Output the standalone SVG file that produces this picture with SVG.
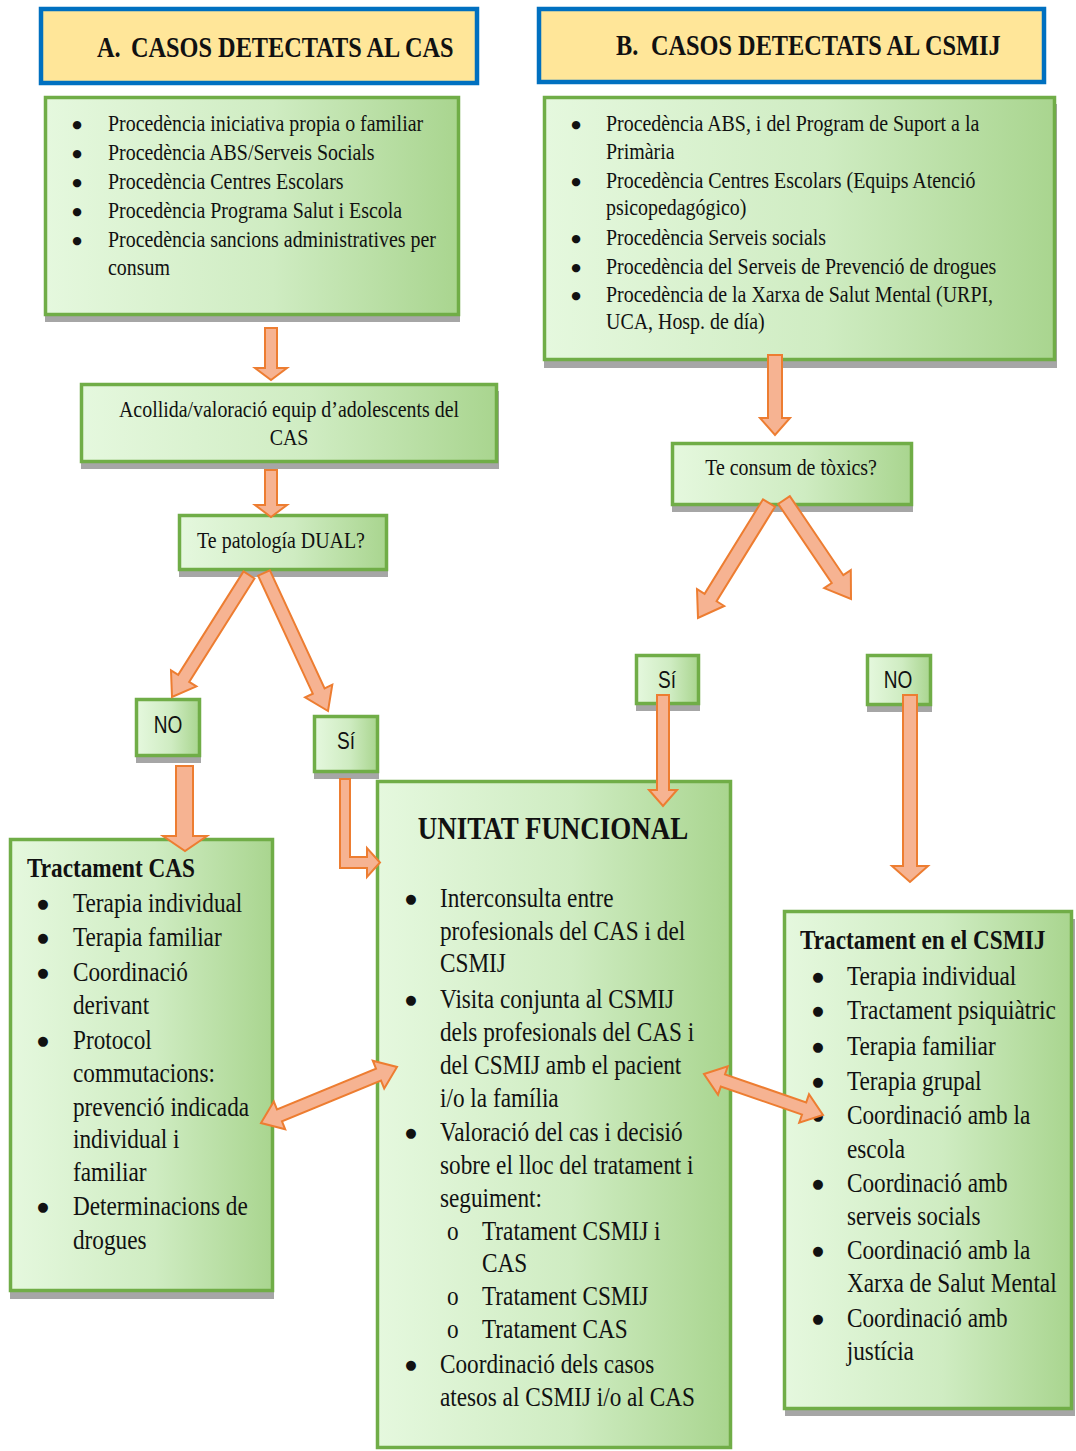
<svg xmlns="http://www.w3.org/2000/svg" width="1076" height="1451" viewBox="0 0 1076 1451">
  <defs>
    <linearGradient id="gfill" x1="0" y1="0" x2="1" y2="0">
      <stop offset="0" stop-color="#e5f8de"/>
      <stop offset="0.55" stop-color="#cfecc2"/>
      <stop offset="1" stop-color="#a9d58f"/>
    </linearGradient>
  </defs>
  <style>
    .box { fill: url(#gfill); stroke: #70ad47; stroke-width: 3.5; }
    .shadow { fill: #a6a6a6; }
    .hdr { fill: #ffe699; stroke: #0070c0; stroke-width: 4.5; }
    .arrow { fill: #f6b392; stroke: #ed7d31; stroke-width: 2; stroke-linejoin: miter; }
    text { fill: #111; font-family: "Liberation Serif", "Times New Roman", serif;
           transform-box: fill-box; transform-origin: 0 50%; transform: scaleX(0.83); }
    .m { text-anchor: middle; transform-origin: 50% 50%; }
    .s24 { font-size: 24px; }
    .s28 { font-size: 28px; }
    .b28 { font-size: 28px; font-weight: bold; }
    .b32 { font-size: 32.5px; font-weight: bold; }
    .h { font-size: 29.3px; font-weight: bold; }
    .a { font-family: "Liberation Sans", Arial, sans-serif; font-size: 23px; }
    .bl { font-family: "DejaVu Sans", sans-serif; text-anchor: middle; transform: none; }
    .s24 .bl { font-size: 11px; }
    .s28 .bl { font-size: 13px; }
  </style>

  <rect width="1076" height="1451" fill="#ffffff"/>

  <!-- Header A -->
  <g id="hdrA">
    <rect class="hdr" x="41" y="9" width="436" height="74"/>
    <text class="h" x="97" y="57">A.</text>
    <text class="h" x="131" y="57">CASOS DETECTATS AL CAS</text>
  </g>

  <!-- Header B -->
  <g id="hdrB">
    <rect class="hdr" x="539" y="9" width="505" height="73"/>
    <text class="h" x="616" y="55">B.</text>
    <text class="h" x="651" y="55">CASOS DETECTATS AL CSMIJ</text>
  </g>

  <!-- Sources A -->
  <g id="srcA">
    <rect class="shadow" x="45" y="104" width="415" height="218"/>
    <rect class="box" x="45.5" y="97.5" width="413" height="217"/>
    <g class="s24">
      <text class="bl" x="77" y="128">●</text><text x="108" y="131">Procedència iniciativa propia o familiar</text>
      <text class="bl" x="77" y="157">●</text><text x="108" y="160">Procedència ABS/Serveis Socials</text>
      <text class="bl" x="77" y="186">●</text><text x="108" y="189">Procedència Centres Escolars</text>
      <text class="bl" x="77" y="215">●</text><text x="108" y="218">Procedència Programa Salut i Escola</text>
      <text class="bl" x="77" y="244">●</text><text x="108" y="247">Procedència sancions administratives per</text>
      <text x="108" y="275">consum</text>
    </g>
  </g>

  <!-- Sources B -->
  <g id="srcB">
    <rect class="shadow" x="544" y="104" width="513" height="264"/>
    <rect class="box" x="544.5" y="97.5" width="510" height="262"/>
    <g class="s24">
      <text class="bl" x="576" y="128">●</text><text x="606" y="131">Procedència ABS, i del Program de Suport a la</text>
      <text x="606" y="159">Primària</text>
      <text class="bl" x="576" y="185">●</text><text x="606" y="188">Procedència Centres Escolars (Equips Atenció</text>
      <text x="606" y="215">psicopedagógico)</text>
      <text class="bl" x="576" y="242">●</text><text x="606" y="245">Procedència Serveis socials</text>
      <text class="bl" x="576" y="271">●</text><text x="606" y="274">Procedència del Serveis de Prevenció de drogues</text>
      <text class="bl" x="576" y="299">●</text><text x="606" y="302">Procedència de la Xarxa de Salut Mental (URPI,</text>
      <text x="606" y="329">UCA, Hosp. de día)</text>
    </g>
  </g>

  <!-- Acollida -->
  <g id="acollida">
    <rect class="shadow" x="81" y="391" width="418" height="78"/>
    <rect class="box" x="81.5" y="384.5" width="415" height="77"/>
    <text class="s24 m" x="289" y="417">Acollida/valoració equip d’adolescents del</text>
    <text class="s24 m" x="289" y="445">CAS</text>
  </g>

  <!-- Te patologia DUAL -->
  <g id="dual">
    <rect class="shadow" x="179" y="522" width="209" height="55"/>
    <rect class="box" x="179.5" y="515.5" width="207" height="54"/>
    <text class="s24 m" x="281" y="548">Te patología DUAL?</text>
  </g>

  <!-- Te consum de toxics -->
  <g id="consum">
    <rect class="shadow" x="672" y="450" width="241" height="62"/>
    <rect class="box" x="672.5" y="443.5" width="239" height="61"/>
    <text class="s24 m" x="791" y="475">Te consum de tòxics?</text>
  </g>

  <!-- NO (A) -->
  <g id="noA">
    <rect class="shadow" x="136" y="706" width="65" height="57"/>
    <rect class="box" x="136.5" y="699.5" width="63" height="56"/>
    <text class="a m" x="168" y="733">NO</text>
  </g>

  <!-- Si (A) -->
  <g id="siA">
    <rect class="shadow" x="314" y="723" width="65" height="56"/>
    <rect class="box" x="314.5" y="716.5" width="63" height="55"/>
    <text class="a m" x="346" y="749">Sí</text>
  </g>

  <!-- Si (B) -->
  <g id="siB">
    <rect class="shadow" x="636" y="662" width="64" height="49"/>
    <rect class="box" x="636.5" y="655.5" width="62" height="48"/>
    <text class="a m" x="667" y="688">Sí</text>
  </g>

  <!-- NO (B) -->
  <g id="noB">
    <rect class="shadow" x="867" y="662" width="65" height="50"/>
    <rect class="box" x="867.5" y="655.5" width="63" height="49"/>
    <text class="a m" x="898" y="688">NO</text>
  </g>

  <!-- Tractament CAS -->
  <g id="tractCAS">
    <rect class="shadow" x="10" y="847" width="264" height="452"/>
    <rect class="box" x="10.5" y="839.5" width="262" height="451"/>
    <text class="b28" x="27" y="877">Tractament CAS</text>
    <g class="s28">
      <text class="bl" x="43" y="908">●</text><text x="73" y="912">Terapia individual</text>
      <text class="bl" x="43" y="942">●</text><text x="73" y="946">Terapia familiar</text>
      <text class="bl" x="43" y="977">●</text><text x="73" y="981">Coordinació</text>
      <text x="73" y="1014">derivant</text>
      <text class="bl" x="43" y="1045">●</text><text x="73" y="1049">Protocol</text>
      <text x="73" y="1082">commutacions:</text>
      <text x="73" y="1116">prevenció indicada</text>
      <text x="73" y="1148">individual i</text>
      <text x="73" y="1181">familiar</text>
      <text class="bl" x="43" y="1211">●</text><text x="73" y="1215">Determinacions de</text>
      <text x="73" y="1249">drogues</text>
    </g>
  </g>

  <!-- Unitat funcional -->
  <g id="unitat">
    <rect class="box" x="377.5" y="781.5" width="353" height="666"/>
    <text class="b32 m" x="553" y="839">UNITAT FUNCIONAL</text>
    <g class="s28">
      <text class="bl" x="411" y="903">●</text><text x="440" y="907">Interconsulta entre</text>
      <text x="440" y="940">profesionals del CAS i del</text>
      <text x="440" y="972">CSMIJ</text>
      <text class="bl" x="411" y="1004">●</text><text x="440" y="1008">Visita conjunta al CSMIJ</text>
      <text x="440" y="1041">dels profesionals del CAS i</text>
      <text x="440" y="1074">del CSMIJ amb el pacient</text>
      <text x="440" y="1107">i/o la família</text>
      <text class="bl" x="411" y="1137">●</text><text x="440" y="1141">Valoració del cas i decisió</text>
      <text x="440" y="1174">sobre el lloc del tratament i</text>
      <text x="440" y="1207">seguiment:</text>
      <text x="447" y="1240">o</text><text x="482" y="1240">Tratament CSMIJ i</text>
      <text x="482" y="1272">CAS</text>
      <text x="447" y="1305">o</text><text x="482" y="1305">Tratament CSMIJ</text>
      <text x="447" y="1338">o</text><text x="482" y="1338">Tratament CAS</text>
      <text class="bl" x="411" y="1369">●</text><text x="440" y="1373">Coordinació dels casos</text>
      <text x="440" y="1406">atesos al CSMIJ i/o al CAS</text>
    </g>
  </g>

  <!-- Tractament en el CSMIJ -->
  <g id="tractCSMIJ">
    <rect class="shadow" x="785" y="919" width="290" height="497"/>
    <rect class="box" x="784.5" y="911.5" width="287" height="497"/>
    <text class="b28" x="800" y="949">Tractament en el CSMIJ</text>
    <g class="s28">
      <text class="bl" x="818" y="981">●</text><text x="847" y="985">Terapia individual</text>
      <text class="bl" x="818" y="1015">●</text><text x="847" y="1019">Tractament psiquiàtric</text>
      <text class="bl" x="818" y="1051">●</text><text x="847" y="1055">Terapia familiar</text>
      <text class="bl" x="818" y="1086">●</text><text x="847" y="1090">Terapia grupal</text>
      <text class="bl" x="818" y="1120">●</text><text x="847" y="1124">Coordinació amb la</text>
      <text x="847" y="1158">escola</text>
      <text class="bl" x="818" y="1188">●</text><text x="847" y="1192">Coordinació amb</text>
      <text x="847" y="1225">serveis socials</text>
      <text class="bl" x="818" y="1255">●</text><text x="847" y="1259">Coordinació amb la</text>
      <text x="847" y="1292">Xarxa de Salut Mental</text>
      <text class="bl" x="818" y="1323">●</text><text x="847" y="1327">Coordinació amb</text>
      <text x="847" y="1360">justícia</text>
    </g>
  </g>

  <!-- Connectors -->
  <g id="connectors">
    <polygon class="arrow" points="265,328 277,328 277,368 287,368 271,380 255,368 265,368"/>
    <polygon class="arrow" points="265,470 277,470 277,505 287,505 271,517 255,505 265,505"/>
    <polygon class="arrow" points="768,355 782,355 782,418 790,418 775,435 760,418 768,418"/>
    <polygon class="arrow" points="254.5,578.5 189.2,681.9 196.4,686.4 172,697 171,670.4 178.2,674.9 243.5,571.5"/>
    <polygon class="arrow" points="269.9,570.3 324.6,688.3 332.3,684.7 328,711 305.1,697.3 312.8,693.7 258.1,575.7"/>
    <polygon class="arrow" points="775,506.7 716.6,601.3 724.2,606 698,618 697,589.2 704.6,593.9 763,499.3"/>
    <polygon class="arrow" points="789.8,496.1 843.3,575.2 850.8,570.1 851,599 824.2,588.1 831.7,583 778.2,503.9"/>
    <polygon class="arrow" points="176,766 193,766 193,836 207,836 185,851 163,836 176,836"/>
    <polygon class="arrow" points="340,779 350,779 350,857 367,857 367,848 380,862.5 367,877 367,868 340,868"/>
    <polygon class="arrow" points="657,695 669,695 669,790 677,790 663,806 649,790 657,790"/>
    <polygon class="arrow" points="903,695 917,695 917,866 928,866 910,882 892,866 903,866"/>
    <polygon class="arrow" points="261,1123 273.8,1101.5 277,1109.4 376,1068.6 372.8,1060.7 397,1067 384.2,1088.5 381,1080.6 282,1121.4 285.2,1129.3"/>
    <polygon class="arrow" points="704,1074 727.8,1066.3 725,1074.4 806.2,1102.4 809,1094.3 823,1115 799.2,1122.7 802,1114.6 720.8,1086.6 718,1094.7"/>
  </g>
</svg>
